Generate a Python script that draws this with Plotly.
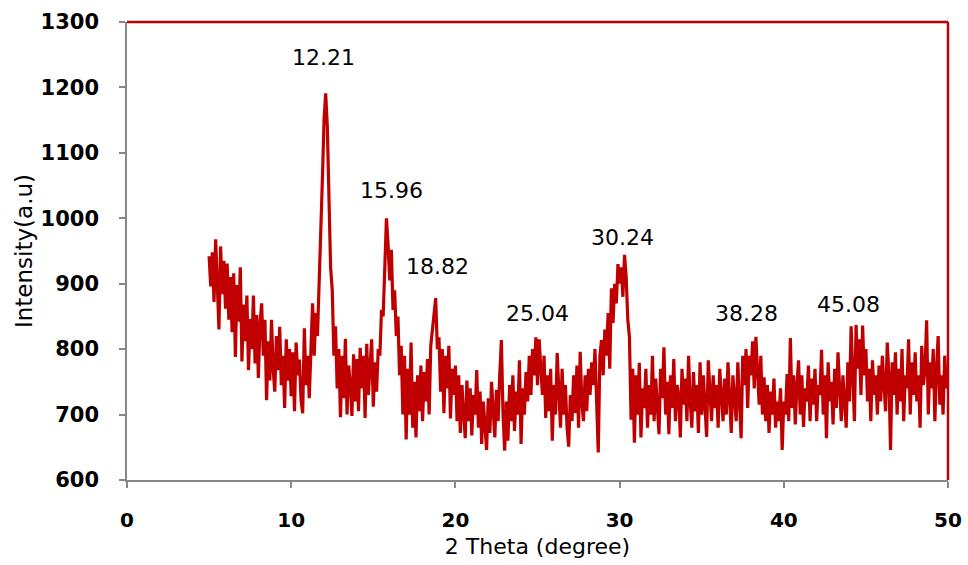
import numpy as np
import plotly.graph_objects as go

# 2-theta grid: 5.0 .. 50.0 deg, step 0.1
two_theta_start = 5.0
two_theta_step = 0.1

intensity_05_15 = [
    942, 896, 948, 872, 968, 905, 830, 957, 884, 935,
    862, 931, 845, 910, 826, 916, 788, 898, 842, 925,
    781, 868, 812, 882, 768, 846, 800, 882, 778, 852,
    756, 838, 870, 790, 845, 722, 812, 752, 845, 770,
    735, 820, 768, 834, 745, 790, 710, 815, 752, 800,
    728, 795, 705, 810, 760, 784, 722, 702, 832, 745,
    790, 725, 812, 870, 790, 855, 820, 915, 985, 1060,
    1150, 1191, 1140, 1040, 925, 890, 790, 835, 740, 800,
    696, 790, 725, 816, 700, 775, 745, 698, 792, 720,
    785, 705, 802, 740, 790, 695, 808, 730, 770, 815,
]
intensity_15_25 = [
    712, 780, 735, 800, 790, 860, 850, 930, 1000, 960,
    905, 952, 860, 890, 820, 850, 760, 805, 700, 790,
    662, 770, 700, 810, 680, 750, 665, 760, 705, 775,
    690, 765, 720, 785, 700, 805, 830, 860, 878, 800,
    818, 735, 800, 702, 790, 740, 805, 694, 770, 730,
    775, 690, 760, 672, 745, 700, 664, 752, 690, 740,
    668, 730, 700, 768, 680, 735, 655, 720, 690, 646,
    725, 672, 750, 700, 665, 738, 690, 760, 814, 700,
    645, 720, 660, 745, 690, 760, 675, 735, 700, 783,
    655, 740, 700, 765, 720, 790, 730, 800, 760, 818,
]
intensity_25_35 = [
    745, 815, 770, 730, 790, 695, 760, 705, 770, 660,
    745, 700, 794, 720, 680, 770, 700, 745, 680, 651,
    730, 690, 760, 702, 775, 680, 796, 720, 690, 760,
    705, 770, 730, 780, 745, 800, 725, 642, 790, 814,
    760, 830, 790, 855, 770, 893, 840, 900, 870, 930,
    900, 925, 880, 944, 910, 845, 818, 692, 770, 657,
    760, 700, 779, 665, 740, 710, 770, 680, 745, 700,
    790, 690, 755, 715, 670, 770, 725, 803, 700, 750,
    670, 760, 710, 785, 690, 745, 730, 665, 770, 715,
    755, 690, 790, 720, 680, 765, 705, 745, 672, 780,
]
intensity_35_50 = [
    700, 760, 715, 666, 783, 725, 690, 760, 710, 745,
    680, 770, 725, 690, 755, 700, 780, 735, 672, 760,
    715, 690, 780, 730, 664, 790, 745, 800, 710, 790,
    760, 812, 740, 819, 770, 715, 790, 700, 757, 690,
    745, 672, 735, 700, 755, 680, 720, 690, 740, 646,
    720, 700, 762, 690, 817, 710, 760, 685, 745, 783,
    700, 760, 681, 740, 720, 775, 690, 755, 715, 770,
    690, 745, 730, 799, 700, 760, 664, 780, 720, 750,
    685, 770, 710, 795, 740, 690, 760, 725, 680, 780,
    720, 835, 740, 690, 837, 770, 815, 730, 836, 760,
    800, 720, 770, 690, 783, 730, 760, 700, 775, 720,
    790, 740, 705, 810, 760, 646, 780, 730, 795, 700,
    770, 720, 800, 690, 760, 740, 815, 700, 780, 730,
    795, 720, 760, 680, 805, 745, 770, 844, 700, 780,
    740, 800, 690, 770, 820, 715, 760, 700, 790, 740,
    760,
]

peak_labels = ["12.21", "15.96", "18.82", "25.04", "30.24", "38.28", "45.08"]
peak_label_x = [11.94, 16.08, 18.88, 25.03, 30.15, 37.73, 43.91]
peak_label_y = [1246, 1043, 926, 855, 970, 854, 869]

x_ticks = [0, 10, 20, 30, 40, 50]
y_ticks = [600, 700, 800, 900, 1000, 1100, 1200, 1300]

intensity = intensity_05_15 + intensity_15_25 + intensity_25_35 + intensity_35_50
two_theta = np.round(two_theta_start + two_theta_step * np.arange(len(intensity)), 2)

RED = "#C00000"
AXIS = "#878787"
FONT = "DejaVu Sans"

fig = go.Figure()
fig.add_trace(go.Scatter(
    x=two_theta, y=intensity, mode="lines",
    line=dict(color=RED, width=3.2), showlegend=False, hoverinfo="x+y",
))

for t, xx, yy in zip(peak_labels, peak_label_x, peak_label_y):
    fig.add_annotation(x=xx, y=yy, text=t, showarrow=False,
                       font=dict(family=FONT, size=22, color="#000000"))

# red plot-area border on top and right
fig.add_shape(type="line", xref="paper", yref="paper", x0=0, x1=1, y0=1, y1=1,
              line=dict(color=RED, width=2.5))
fig.add_shape(type="line", xref="paper", yref="paper", x0=1, x1=1, y0=0, y1=1,
              line=dict(color=RED, width=2.5))

fig.update_layout(
    width=968, height=565,
    margin=dict(l=127, r=20, t=22, b=85),
    paper_bgcolor="white", plot_bgcolor="white",
    font=dict(family=FONT, color="#000000"),
    xaxis=dict(
        range=[0, 50], tickvals=x_ticks, showgrid=False, zeroline=False,
        showline=True, linecolor=AXIS, linewidth=1.5, automargin=False,
        ticks="outside", ticklen=6, tickcolor=AXIS, tickwidth=1.5,
        tickfont=dict(family=FONT, size=20, color="#000000", weight="bold"),
        ticklabelstandoff=15,
        title=dict(text="2 Theta (degree)", font=dict(family=FONT, size=22), standoff=8),
    ),
    yaxis=dict(
        range=[600, 1300], tickvals=y_ticks, showgrid=False, zeroline=False,
        showline=True, linecolor=AXIS, linewidth=1.5, automargin=False,
        ticks="outside", ticklen=6, tickcolor=AXIS, tickwidth=1.5,
        tickfont=dict(family=FONT, size=21, color="#000000", weight="bold"),
        ticklabelstandoff=16,
        title=dict(text="Intensity(a.u)", font=dict(family=FONT, size=23), standoff=2),
    ),
)

fig.write_html("out.html")
